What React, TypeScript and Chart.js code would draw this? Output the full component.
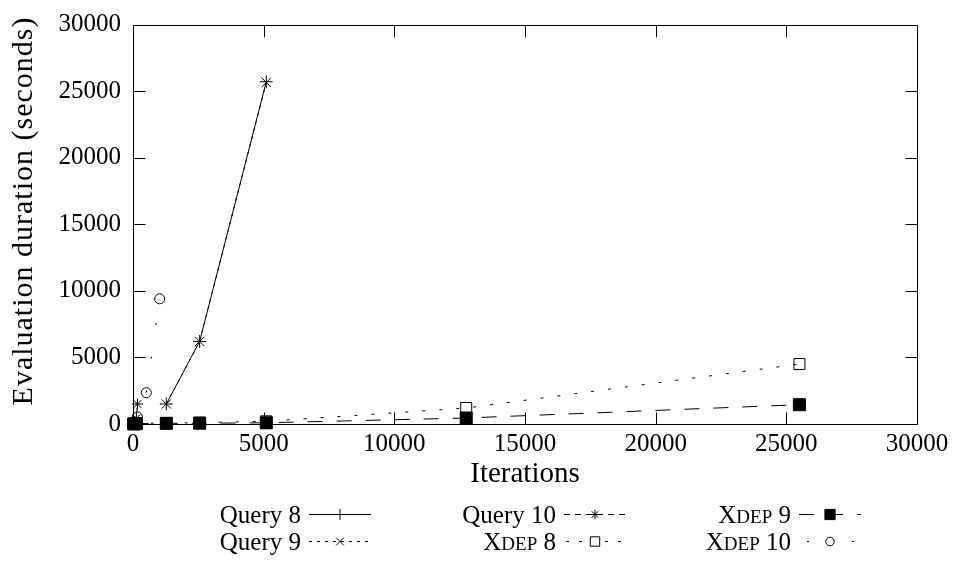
import React, { useEffect, useRef } from 'react';
import { Chart, registerables } from 'chart.js';

Chart.register(...registerables);

const FONT = '"Liberation Serif", "Times New Roman", serif';

// ---- axis ticks ----
const xTicks = [0, 5000, 10000, 15000, 20000, 25000, 30000];
const yTicks = [0, 5000, 10000, 15000, 20000, 25000, 30000];

// ---- series data (Iterations, seconds) ----
const query8X = [1275, 2550, 5100];
const query8Y = [1500, 6200, 25700];

const query9X = [1275, 2550, 5100];
const query9Y = [1500, 6200, 25650];

const query10X = [13, 51, 128, 170];
const query10Y = [40, 150, 420, 1500];

const xdep8X = [26, 128, 1275, 2550, 5100, 12750, 25500];
const xdep8Y = [20, 60, 60, 100, 200, 1200, 4500];

const xdep9X = [26, 128, 1275, 2550, 5100, 12750, 25500];
const xdep9Y = [5, 20, 50, 60, 90, 450, 1450];

const xdep10X = [13, 64, 170, 510, 1020];
const xdep10Y = [30, 150, 530, 2350, 9400];

const labels = ['Query 8', 'Query 9', 'Query 10', 'Xdep 8', 'Xdep 9', 'Xdep 10'];

type Marker = 'cross' | 'crossRot' | 'star' | 'rect' | 'circle';

const styles: { marker: Marker; radius: number; filled: boolean; dash: number[]; legendDash: number[]; legendOffset: number; smallCaps: boolean }[] = [
  { marker: 'cross', radius: 6.5, filled: false, dash: [], legendDash: [], legendOffset: 0, smallCaps: false },
  { marker: 'crossRot', radius: 6.5, filled: false, dash: [3, 5], legendDash: [3, 5], legendOffset: 0, smallCaps: false },
  { marker: 'star', radius: 5.5, filled: false, dash: [6, 5], legendDash: [6, 5], legendOffset: 0, smallCaps: false },
  { marker: 'rect', radius: 7.8, filled: false, dash: [3, 14], legendDash: [3, 10], legendOffset: -2, smallCaps: true },
  { marker: 'rect', radius: 8.5, filled: true, dash: [15, 14], legendDash: [15, 14], legendOffset: 0, smallCaps: true },
  { marker: 'circle', radius: 5, filled: false, dash: [2, 32], legendDash: [2, 43], legendOffset: -8, smallCaps: true },
];

const seriesX = [query8X, query9X, query10X, xdep8X, xdep9X, xdep10X];
const seriesY = [query8Y, query9Y, query10Y, xdep8Y, xdep9Y, xdep10Y];

// legend layout: column-major order
const legendOrder = [[0, 1], [2, 3], [4, 5]];
const legendTextRight = [301, 556, 791];
const legendRowBaseline = [523, 550];

function drawMarker(ctx: CanvasRenderingContext2D, m: Marker, x: number, y: number, r: number, filled: boolean) {
  ctx.save();
  ctx.setLineDash([]);
  ctx.lineWidth = 1;
  ctx.strokeStyle = '#000';
  ctx.fillStyle = filled ? '#000' : '#fff';
  ctx.beginPath();
  const d = r * Math.SQRT1_2;
  if (m === 'cross' || m === 'star') {
    ctx.moveTo(x - r, y); ctx.lineTo(x + r, y);
    ctx.moveTo(x, y - r); ctx.lineTo(x, y + r);
  }
  if (m === 'crossRot' || m === 'star') {
    ctx.moveTo(x - d, y - d); ctx.lineTo(x + d, y + d);
    ctx.moveTo(x - d, y + d); ctx.lineTo(x + d, y - d);
  }
  if (m === 'rect') {
    ctx.rect(x - d, y - d, 2 * d, 2 * d);
    ctx.fill();
  }
  if (m === 'circle') {
    ctx.arc(x, y, r, 0, Math.PI * 2);
    ctx.fill();
  }
  ctx.stroke();
  ctx.restore();
}

function segmentsFor(text: string, smallCaps: boolean, size: number) {
  const segs: { t: string; size: number }[] = [];
  for (const ch of text) {
    const isLower = smallCaps && ch >= 'a' && ch <= 'z';
    const s = isLower ? Math.round(size * 0.76) : size;
    const t = isLower ? ch.toUpperCase() : ch;
    const last = segs[segs.length - 1];
    if (last && last.size === s) last.t += t;
    else segs.push({ t, size: s });
  }
  return segs;
}

const decor = {
  id: 'gnuplotDecor',
  beforeDatasetsDraw(chart: any) {
    const { ctx, chartArea: a, scales } = chart;
    ctx.save();
    ctx.strokeStyle = '#000';
    ctx.lineWidth = 1;
    const L = Math.round(a.left) + 0.5, R = Math.round(a.right) + 0.5;
    const T = Math.round(a.top) + 0.5, B = Math.round(a.bottom) + 0.5;
    ctx.beginPath();
    ctx.rect(L, T, R - L, B - T);
    const tl = 12;
    for (const v of xTicks) {
      const px = Math.round(scales.x.getPixelForValue(v)) + 0.5;
      ctx.moveTo(px, B); ctx.lineTo(px, B - tl);
      ctx.moveTo(px, T); ctx.lineTo(px, T + tl);
    }
    for (const v of yTicks) {
      const py = Math.round(scales.y.getPixelForValue(v)) + 0.5;
      ctx.moveTo(L, py); ctx.lineTo(L + tl, py);
      ctx.moveTo(R, py); ctx.lineTo(R - tl, py);
    }
    ctx.stroke();
    ctx.restore();
  },
  afterDraw(chart: any) {
    const { ctx, chartArea: a } = chart;
    ctx.save();
    ctx.fillStyle = '#000';
    // x title
    ctx.font = `29px ${FONT}`;
    ctx.textAlign = 'center';
    ctx.textBaseline = 'alphabetic';
    ctx.fillText('Iterations', (a.left + a.right) / 2, 482);
    // y title
    ctx.save();
    ctx.translate(32, 211);
    ctx.rotate(-Math.PI / 2);
    ctx.font = `30px ${FONT}`;
    (ctx as any).letterSpacing = '1px';
    ctx.textAlign = 'center';
    ctx.fillText('Evaluation duration (seconds)', 0, 0);
    ctx.restore();
    // legend
    ctx.textAlign = 'left';
    legendOrder.forEach((col, ci) => {
      col.forEach((si, ri) => {
        const st = styles[si];
        const base = legendRowBaseline[ri];
        const segs = segmentsFor(labels[si], st.smallCaps, 25);
        let w = 0;
        segs.forEach(s => { ctx.font = `${s.size}px ${FONT}`; w += ctx.measureText(s.t).width; });
        let x = legendTextRight[ci] - w;
        ctx.fillStyle = '#000';
        segs.forEach(s => {
          ctx.font = `${s.size}px ${FONT}`;
          ctx.fillText(s.t, x, base);
          x += ctx.measureText(s.t).width;
        });
        const x0 = legendTextRight[ci] + 8, x1 = x0 + 62, ly = base - 8.5;
        ctx.save();
        ctx.strokeStyle = '#000';
        ctx.lineWidth = 1;
        ctx.setLineDash(st.legendDash);
        ctx.lineDashOffset = st.legendOffset;
        ctx.beginPath();
        ctx.moveTo(x0, ly); ctx.lineTo(x1, ly);
        ctx.stroke();
        ctx.restore();
        drawMarker(ctx, st.marker, (x0 + x1) / 2, ly, st.radius * 0.85, st.filled);
      });
    });
    ctx.restore();
  },
};

export default function App() {
  const ref = useRef<HTMLCanvasElement>(null);
  useEffect(() => {
    const datasets = labels.map((label, i) => {
      const st = styles[i];
      return {
        label,
        data: seriesX[i].map((x, j) => ({ x, y: seriesY[i][j] })),
        borderColor: '#000',
        borderWidth: 1,
        borderDash: st.dash,
        pointStyle: st.marker,
        pointRadius: st.radius,
        pointBorderColor: '#000',
        pointBorderWidth: 1,
        pointBackgroundColor: st.filled ? '#000' : 'rgba(0,0,0,0)',
        fill: false,
        tension: 0,
        clip: false as any,
        order: i === 4 ? -1 : i,
      };
    });
    const chart = new Chart(ref.current!, {
      type: 'line',
      data: { datasets },
      plugins: [decor],
      options: {
        animation: false,
        responsive: false,
        maintainAspectRatio: false,
        layout: { padding: { left: 0, top: 15, right: 44, bottom: 0 } },
        plugins: { legend: { display: false }, tooltip: { enabled: false } },
        scales: {
          x: {
            type: 'linear',
            min: 0,
            max: 30000,
            afterBuildTicks: (s: any) => { s.ticks = xTicks.map(v => ({ value: v })); },
            afterFit: (s: any) => { s.height = 137; },
            ticks: {
              color: '#000',
              font: { family: FONT, size: 25, lineHeight: 1 },
              padding: 8,
              maxRotation: 0,
              autoSkip: false,
              callback: (v: any) => String(v),
            },
            grid: { display: false, drawTicks: false },
            border: { display: false },
          },
          y: {
            type: 'linear',
            min: 0,
            max: 30000,
            afterBuildTicks: (s: any) => { s.ticks = yTicks.map(v => ({ value: v })); },
            afterFit: (s: any) => { s.width = 133; },
            ticks: {
              color: '#000',
              font: { family: FONT, size: 25, lineHeight: 1 },
              padding: 12,
              autoSkip: false,
              callback: (v: any) => String(v),
            },
            grid: { display: false, drawTicks: false },
            border: { display: false },
          },
        },
      },
    } as any);
    return () => chart.destroy();
  }, []);
  return (
    <div style={{ position: 'absolute', left: 0, top: 0, width: 961, height: 561, background: '#fff' }}>
      <canvas ref={ref} width={961} height={561} style={{ display: 'block', width: 961, height: 561 }} />
    </div>
  );
}
